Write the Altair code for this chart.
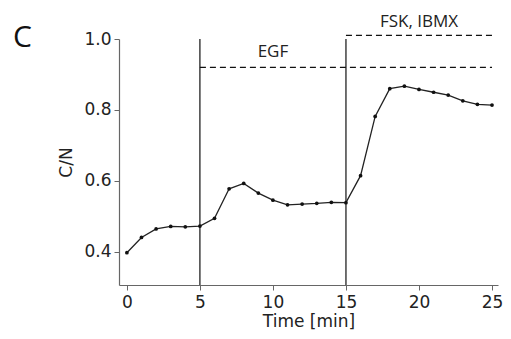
import altair as alt
import pandas as pd

time_min = list(range(26))
cn_ratio = [0.398, 0.441, 0.465, 0.472, 0.471, 0.473, 0.495, 0.578, 0.593, 0.566,
            0.546, 0.533, 0.535, 0.537, 0.540, 0.539, 0.615, 0.782, 0.860, 0.867,
            0.858, 0.850, 0.842, 0.826, 0.816, 0.814]

stim_times = [5, 15]
treat_labels = ["EGF", "FSK, IBMX"]
treat_start = [5, 15]
treat_end = [25, 25]
treat_level = [0.92, 1.01]
label_x = [10, 20]
label_y = [0.962, 1.049]

x_ticks = [0, 5, 10, 15, 20, 25]
y_ticks = [0.4, 0.6, 0.8, 1.0]
x_dom = [-0.54, 25.41]
y_dom = [0.307, 1.0]

df = pd.DataFrame({"t": time_min, "cn": cn_ratio})
rules = pd.DataFrame({"t": stim_times, "top": [y_dom[1]] * 2, "bot": [y_dom[0]] * 2})
treat = pd.DataFrame({"s": treat_start, "e": treat_end, "lvl": treat_level,
                      "label": treat_labels, "lx": label_x, "ly": label_y})

xs = alt.Scale(domain=x_dom, nice=False, zero=False)
ys = alt.Scale(domain=y_dom, nice=False, zero=False)

axis_common = dict(labelFont="DejaVu Sans", titleFont="DejaVu Sans", labelFontSize=17,
                   titleFontSize=17, labelColor="#222", titleColor="#222",
                   domainColor="#666", tickColor="#666", tickSize=5, grid=False,
                   titleFontWeight="normal", domainWidth=1.2)

line = alt.Chart(df).mark_line(color="#222", strokeWidth=1.3).encode(
    x=alt.X("t:Q", scale=xs, axis=alt.Axis(values=x_ticks, title="Time [min]", format="d",
                                           labelPadding=4, titlePadding=3, **axis_common)),
    y=alt.Y("cn:Q", scale=ys, axis=alt.Axis(values=y_ticks, title="C/N", format=".1f",
                                            labelPadding=3, titlePadding=8, **axis_common)),
)
pts = alt.Chart(df).mark_circle(color="#111", size=14, opacity=1).encode(x="t:Q", y="cn:Q")

vrules = alt.Chart(rules).mark_rule(color="#111", strokeWidth=1.2).encode(
    x="t:Q", y="top:Q", y2="bot:Q")

dashes = alt.Chart(treat).mark_rule(color="#111", strokeWidth=1.2, strokeDash=[6, 4]).encode(
    x="s:Q", x2="e:Q", y="lvl:Q")

labels = alt.Chart(treat).mark_text(font="Open Sans", fontSize=17, color="#222",
                                    baseline="middle", align="center").encode(
    x="lx:Q", y="ly:Q", text="label:N")

panel = alt.Chart(pd.DataFrame({"p": ["C"]})).mark_text(
    font="Open Sans", fontSize=30, color="#111", align="left", baseline="middle").encode(
    x=alt.value(-106), y=alt.value(-1), text="p:N")

chart = alt.layer(vrules, dashes, line, pts, labels, panel).properties(
    width=379, height=246,
    autosize=alt.AutoSizeParams(type="none"),
    padding={"left": 111, "top": 31, "right": 5, "bottom": 46},
).configure_view(stroke=None).configure_axisX(domain=True).configure_axisY(domain=True)

chart.save("out.html", embed_options={"renderer": "svg", "actions": False})
